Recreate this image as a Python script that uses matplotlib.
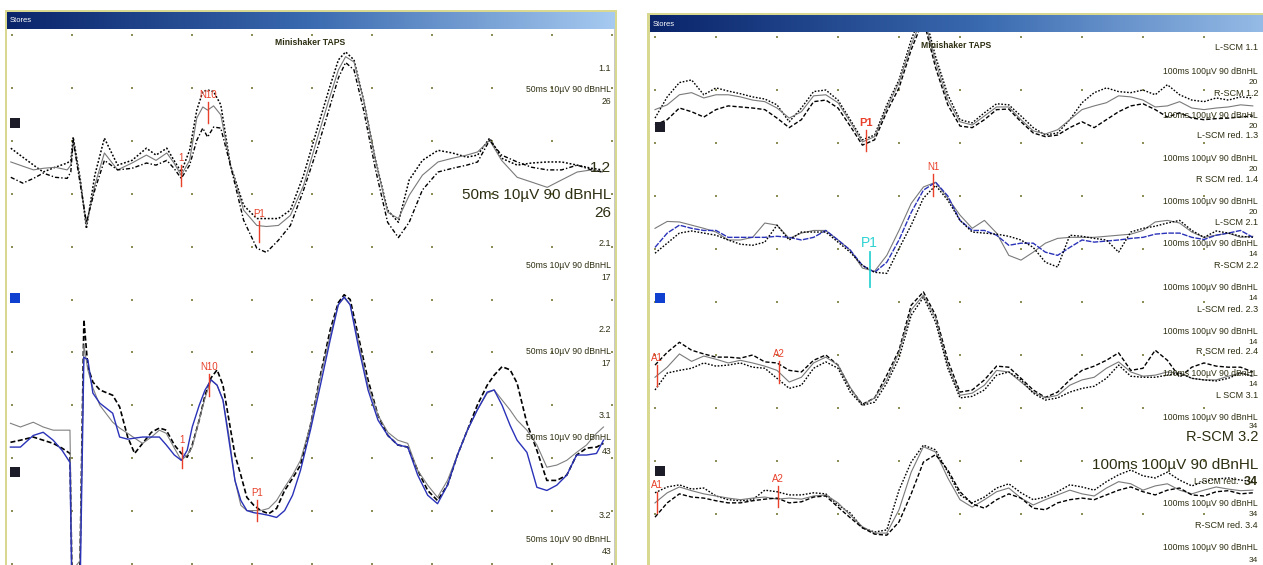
import numpy as np
import matplotlib
matplotlib.use("Agg")
import matplotlib.pyplot as plt
from matplotlib.patches import Rectangle
from matplotlib.colors import LinearSegmentedColormap

plt.rcParams['font.family'] = ['Liberation Sans', 'DejaVu Sans']

# ---------------- data (time in ms, amplitude in µV) ----------------
# Left window: 50 ms sweep, 10 µV / division
LEFT_T_TOP = [-5.1, -4.1, -3.2, -2.4, -1.4, -0.4, -0.1, 0.1, 0.7, 1.2, 1.9, 2.7, 3.8, 5.0, 6.2, 7.0,
              7.9, 8.5, 9.1, 9.8, 10.4, 10.9, 11.3, 11.8, 12.4, 13.2, 14.3, 15.4, 16.2, 17.2, 18.2,
              19.3, 20.4, 21.4, 22.2, 22.8, 23.5, 24.3, 25.3, 26.3, 27.2, 28.1, 29.2, 30.5, 31.7,
              32.9, 33.8, 34.8, 35.8, 37.1, 38.3, 39.6, 40.8, 42.1, 43.3, 44.2]
LEFT_TOP_A = [3.2, 1.5, 0.0, -1.3, -0.4, 0.4, 0.9, 5.3, -2.8, -12.0, -1.9, 5.1, 0.0, 0.9, 3.2, 1.9,
              3.2, 0.9, -1.3, 2.8, 10.4, 13.9, 14.2, 13.9, 11.4, 0.0, -7.6, -10.1, -10.1, -10.1, -8.5,
              -1.9, 6.6, 14.2, 19.9, 21.4, 19.9, 12.3, 0.9, -8.5, -10.8, -2.8, 0.9, 2.8, 2.3, 1.5,
              1.9, 5.1, 1.3, 0.0, 0.4, 0.6, 0.6, 0.0, -0.6, -0.9]
LEFT_TOP_B = [0.6, -0.2, -0.9, -0.6, -0.4, -0.9, 0.0, 4.7, -3.2, -11.4, -3.8, 2.3, -0.9, 0.4, 1.9, 0.9,
              2.3, 0.4, -1.9, 0.9, 8.9, 11.0, 10.4, 11.2, 9.5, 0.0, -8.5, -11.4, -11.6, -11.4, -9.5,
              -3.8, 4.7, 12.3, 18.0, 20.5, 19.5, 12.3, 0.9, -8.9, -10.1, -5.7, -1.9, 0.6, 1.3, 1.9,
              2.5, 4.7, 0.9, -2.3, -3.2, -4.2, -2.8, -1.3, -0.9, -1.3]
LEFT_TOP_C = [-2.3, -3.4, -2.5, -1.5, -2.3, -2.5, -1.3, 4.7, -3.8, -10.8, -4.7, 0.9, -0.9, -0.6, 0.4, 0.0,
              0.9, -0.6, -2.5, 0.0, 4.7, 7.0, 5.3, 7.2, 7.0, 0.0, -10.4, -15.7, -16.5, -14.2, -11.4,
              -4.7, 2.8, 10.4, 16.5, 19.4, 18.0, 10.4, -0.9, -10.8, -13.7, -10.8, -4.7, -1.3, -0.6, 0.0,
              0.6, 4.7, 1.9, 0.6, -0.4, -0.9, -0.9, 0.0, -0.9, -1.3]

LEFT_T_BOT = [-5.13, -4.30, -3.23, -2.40, -1.57, -0.83, -0.17, 0.0, 0.66, 0.99,
              1.32, 1.74, 2.32, 3.39, 3.97, 4.64, 5.22, 5.88, 6.62, 7.28,
              7.86, 8.53, 9.11, 9.60, 10.02, 10.60, 11.09, 11.59, 12.09, 12.58,
              13.08, 13.58, 14.07, 14.57, 15.15, 15.73, 16.39, 17.05, 17.72, 18.38,
              19.04, 19.87, 20.70, 21.52, 22.19, 22.68, 23.18, 23.84, 24.67, 25.50,
              26.32, 27.15, 27.98, 28.81, 29.64, 30.46, 31.29, 32.12, 32.95, 33.77,
              34.60, 35.18, 35.84, 36.51, 37.09, 37.91, 38.74, 39.57, 40.40, 41.23,
              42.05, 42.88, 43.71, 44.29]
LEFT_BOT_A = [-0.4, 0.0, 0.6, 0.0, -0.6, -1.5, -2.5, -26.0, -24.1, 22.8,
              13.9, 11.0, 9.5, 8.5, 6.3, 0.6, -2.5, -0.6, 1.5, 2.3,
              1.9, -0.9, -2.5, -3.2, -0.9, 3.8, 8.5, 11.8, 13.3, 10.4,
              3.8, -2.8, -6.6, -10.8, -12.3, -13.3, -13.9, -12.9, -9.5, -7.2,
              -4.7, 2.8, 12.3, 20.9, 26.0, 27.5, 26.6, 19.9, 11.4, 4.7,
              0.9, -0.9, -1.3, -5.7, -9.5, -11.4, -8.5, -2.8, 1.9, 6.6,
              10.4, 12.3, 13.9, 13.3, 10.8, 3.2, -1.9, -7.6, -7.6, -6.6,
              -2.8, -1.5, -1.3, -0.6]
LEFT_BOT_B = [3.2, 2.5, 3.4, 2.5, 1.9, 1.9, 1.9, -24.7, -22.8, 18.0,
              13.3, 9.9, 6.6, 3.4, 2.3, 1.3, 0.4, -0.6, 0.6, 1.9,
              1.3, -1.5, -3.8, -2.8, -1.3, 3.8, 8.0, 11.4, 10.4, 7.6,
              0.9, -7.6, -12.3, -13.3, -13.3, -13.3, -12.9, -11.4, -8.9, -6.6,
              -3.8, 2.8, 11.8, 19.9, 25.6, 26.9, 25.6, 19.0, 10.4, 4.7,
              1.5, 0.0, -0.6, -5.7, -8.5, -10.8, -7.6, -2.8, 1.9, 5.7,
              8.9, 9.5, 7.6, 5.7, 3.8, 1.9, -0.9, -5.1, -4.7, -3.8,
              -2.3, -0.9, 1.3, 2.5]
LEFT_BOT_C = [-1.3, -1.3, 0.9, 1.5, 0.0, -1.9, -4.2, -30.4, -30.4, 15.7,
              15.2, 8.9, 7.0, 5.1, 0.6, 0.2, 0.4, 0.6, 0.6, 0.6,
              -0.9, -2.8, -3.8, -1.9, 2.5, 6.6, 9.5, 11.4, 10.4, 7.6,
              0.0, -7.6, -11.4, -13.3, -13.7, -13.9, -14.2, -14.6, -13.3, -10.4,
              -5.7, 1.9, 10.4, 19.0, 25.6, 27.1, 25.6, 18.0, 9.5, 3.8,
              0.9, -0.9, -1.3, -6.6, -10.4, -12.0, -8.5, -2.8, 1.9, 5.7,
              9.1, 9.5, 6.6, 2.8, 0.0, -2.3, -8.9, -9.5, -8.5, -6.6,
              -2.8, -2.8, -2.5, 0.0]
LEFT_OFFSETS = [-24.6, -76.6]          # channel baselines (µV on display scale)

# Right window: 100 ms sweep, 100 µV / division
RIGHT_T = [0, 2, 4, 6, 8, 10, 12, 14, 16, 18, 20, 22, 24, 26, 28, 30, 32, 34, 36, 38,
           40, 42, 44, 46, 48, 50, 52, 54, 56, 58, 60, 62, 64, 66, 68, 70, 72, 74, 76, 78,
           80, 82, 84, 86, 88, 90, 92, 94, 96, 98]
R1_A = [-25, 15, 42, 47, 19, 32, 26, 21, 15, 11, 0, -32, -6, 25, 28, 9, -28, -66, -57, 0,
        47, 123, 180, 91, 19, -28, -34, -15, 2, 0, -21, -43, -57, -53, -28, 4, 23, 32, 25, 23,
        28, 19, 38, 19, 9, 6, 13, 9, 15, 13]
R1_B = [-9, 0, 19, 23, 13, 19, 19, 15, 9, 6, -6, -25, -13, 17, 19, 4, -32, -70, -60, -6,
        42, 113, 170, 81, 9, -32, -38, -21, -4, -4, -28, -49, -55, -47, -28, -9, -2, 4, 17, 15,
        9, -4, -2, 6, -6, -9, -6, -4, 0, -2]
R1_C = [-38, -28, -6, -13, -23, -9, -2, -4, -6, -9, -25, -43, -28, 6, 9, -6, -40, -76, -66, -13,
        32, 104, 161, 70, 0, -40, -43, -28, -9, -8, -32, -53, -60, -57, -43, -32, -43, -28, -13, -2,
        2, -9, -23, -15, -25, -28, -26, -25, -23, -21]
R2_GREY = [13, 26, 25, 19, 13, 6, -9, -9, -4, 23, 19, -6, 4, 9, 9, -9, -28, -62, -68, -38,
           9, 60, 91, 100, 70, 38, 13, 28, 4, -38, -47, -32, -15, -6, -4, -4, -4, -2, 0, 2,
           9, 25, 28, 23, 6, -4, 0, 4, -4, -2]
R2_BLUE = [-23, 4, 19, 13, 9, 9, -4, -4, -4, -4, -2, -4, -9, -4, 9, -9, -28, -57, -70, -51,
           -9, 43, 85, 100, 74, 28, 9, 9, 0, -19, -15, -15, -32, -38, -23, -9, -13, -11, -9, -6,
           -4, 2, 4, 4, -4, -8, 0, 4, 9, -4]
R2_DOT = [-34, -15, 4, 8, 4, 0, -9, -17, -19, -13, 19, -9, 6, 6, 6, -13, -32, -57, -70, -72,
          -25, 19, 70, 94, 66, 28, 6, 4, 2, -2, -9, -23, -51, -60, 0, -2, -6, -9, -32, 6,
          13, 17, 23, 28, 9, -4, 8, 4, -2, -4]
R3_A = [19, 43, 62, 47, 40, 34, 34, 32, 38, 25, 23, 9, 6, 28, 38, 19, -25, -55, -43, 0,
        47, 132, 157, 113, 28, -32, -28, -9, 17, 15, -6, -28, -42, -32, -9, 9, 17, 28, 42, 9,
        13, 47, 28, -4, 15, 23, 17, 15, 15, 6]
R3_B = [-4, 15, 40, 26, 36, 30, 23, 28, 23, 17, 9, -13, -4, 23, 34, 19, -23, -57, -43, -9,
        43, 123, 151, 108, 19, -38, -34, -19, 9, 6, -13, -32, -43, -38, -19, -9, -4, 13, 25, 6,
        -2, 0, 6, 4, -6, -9, -9, -2, 4, -2]
R3_C = [-28, 4, 9, 13, 23, 17, 19, 23, 15, 13, -6, -25, -19, 13, 25, 13, -32, -57, -51, -15,
        32, 113, 147, 100, 13, -43, -40, -28, 0, 6, -9, -34, -47, -43, -32, -25, -21, -6, 19, -2,
        -4, -4, 0, 4, -6, -9, -11, -6, 4, -2]
R4_A = [4, 15, 19, 11, 13, -2, -9, -11, -9, 9, 6, 0, 0, 4, 2, -19, -34, -62, -70, -66,
        9, 62, 94, 85, 43, 0, -15, -4, 13, 21, 4, -9, -4, 6, 19, 15, 9, 25, 38, 47,
        36, 32, 43, 28, 17, 25, 30, 32, 28, 25]
R4_B = [-15, 4, 15, 8, 2, -2, -6, -9, -6, -4, -8, -6, -8, -2, 0, -15, -38, -60, -72, -72,
        -28, 43, 91, 81, 32, -9, -23, -9, 6, 13, -6, -19, -9, 0, 9, 2, -2, 13, 25, 21,
        9, 17, 21, 9, 2, 9, 15, 11, 8, 9]
R4_C = [-42, -15, 2, -4, -6, -11, -15, -15, -11, -8, -6, -15, -13, -4, -2, -23, -43, -62, -74, -76,
        -51, 2, 62, 76, 47, 6, -17, -25, -9, 2, -6, -25, -28, -15, -9, -6, -9, 0, 9, 15,
        6, 0, 9, 13, 0, -2, 6, 8, 2, 4]
RIGHT_OFFSETS = [-128, -374, -638, -864]

# peak markers: (group, name, latency ms)
LEFT_MARKS = [(0, "1", 9.1), (0, "N10", 11.3), (0, "P1", 15.6),
              (1, "1", 9.2), (1, "N10", 11.4), (1, "P1", 15.4)]
RIGHT_MARKS = [(0, "P1", 34.6), (1, "P1", 35.2), (1, "N1", 45.6),
               (2, "A1", 0.3), (2, "A2", 20.3), (3, "A1", 0.3), (3, "A2", 20.2)]

LEFT_LABELS = ["1.1", "50ms 10µV 90 dBnHL", "26", "1.2", "50ms 10µV 90 dBnHL", "26",
               "2.1", "50ms 10µV 90 dBnHL", "17", "2.2", "50ms 10µV 90 dBnHL", "17",
               "3.1", "50ms 10µV 90 dBnHL", "43", "3.2", "50ms 10µV 90 dBnHL", "43"]
RIGHT_LABELS = ["L-SCM 1.1", "100ms 100µV 90 dBnHL", "20", "R-SCM 1.2", "100ms 100µV 90 dBnHL",
                "20", "L-SCM red. 1.3", "100ms 100µV 90 dBnHL", "20", "R SCM red. 1.4",
                "100ms 100µV 90 dBnHL", "20", "L-SCM 2.1", "100ms 100µV 90 dBnHL", "14",
                "R-SCM 2.2", "100ms 100µV 90 dBnHL", "14", "L-SCM red. 2.3", "100ms 100µV 90 dBnHL",
                "14", "R SCM red. 2.4", "100ms 100µV 90 dBnHL", "14", "L SCM 3.1",
                "100ms 100µV 90 dBnHL", "34", "R-SCM 3.2", "100ms 100µV 90 dBnHL", "L-SCM red.",
                "34", "100ms 100µV 90 dBnHL", "34", "R-SCM red. 3.4", "100ms 100µV 90 dBnHL", "34"]

# ---------------- layout helpers ----------------
W, H = 1263, 565
fig = plt.figure(figsize=(W / 100, H / 100), dpi=100)
fig.patch.set_facecolor('white')


def rect(x0, y0, x1, y1):
    return [x0 / W, 1 - y1 / H, (x1 - x0) / W, (y1 - y0) / H]


def frect(x0, y0, x1, y1, color, z=-10):
    fig.patches.append(Rectangle((x0 / W, 1 - y1 / H), (x1 - x0) / W, (y1 - y0) / H,
                                 transform=fig.transFigure, facecolor=color,
                                 edgecolor='none', zorder=z))


def ftext(x, y, s, size, color='#2a2a10', ha='right', weight='normal'):
    fig.text(x / W, 1 - y / H, s, fontsize=size, color=color, ha=ha, va='center',
             fontweight=weight, zorder=20)


TXT = '#2e2e12'

# window frames
frect(5, 10, 617, 565, '#d8d890')
frect(7, 12, 615, 565, '#c8c8c8')
frect(647, 13, 1263, 565, '#d8d890')
frect(650, 15, 1263, 565, '#c8c8c8')

grad = np.linspace(0, 1, 256)[None, :]
cm_bar = LinearSegmentedColormap.from_list('bar', ['#0a246a', '#3a6ab0', '#a6caf0'])
for (x0, y0, x1, y1, end) in [(7, 12, 615, 29, 1.0), (650, 15, 1263, 32, 0.92)]:
    bax = fig.add_axes(rect(x0, y0, x1, y1))
    bax.set_zorder(2)
    bax.imshow(grad * end, aspect='auto', cmap=cm_bar, vmin=0, vmax=1)
    bax.set_axis_off()
ftext(10, 20.5, "Stores", 5.5, color='white', ha='left')
ftext(653, 24, "Stores", 5.5, color='white', ha='left')

# ---------------- left window ----------------
axL = fig.add_axes(rect(7, 29, 614, 565))
axL.set_zorder(2)
axL.set_xlim((7 - 72) / 12.0, (614 - 72) / 12.0)
axL.set_ylim(-(565 - 35) / 5.29, -(29 - 35) / 5.29)
axL.set_axis_off()
axL.add_patch(Rectangle((0, 0), 1, 1, transform=axL.transAxes, facecolor='white',
                        edgecolor='none', zorder=0))
gx, gy = np.meshgrid(np.arange(-5, 46, 5), np.arange(0, -101, -10))
axL.scatter(gx.ravel(), gy.ravel(), s=2.2, marker='s', color='#8e8e58', lw=0, zorder=1)

left_styles = [
    [dict(color='black', lw=1.1, ls=(0, (1.2, 1.2))),
     dict(color='#7a7a7a', lw=0.8, ls='-'),
     dict(color='black', lw=1.0, ls=(0, (3, 1.5, 1, 1.5)))],
    [dict(color='black', lw=1.2, ls=(0, (3, 1.5))),
     dict(color='#808080', lw=0.8, ls='-'),
     dict(color='#2a32b8', lw=1.0, ls='-')],
]
left_groups = [(LEFT_T_TOP, [LEFT_TOP_A, LEFT_TOP_B, LEFT_TOP_C]),
               (LEFT_T_BOT, [LEFT_BOT_A, LEFT_BOT_B, LEFT_BOT_C])]
for gi, (t, series) in enumerate(left_groups):
    for vals, st in zip(series, left_styles[gi]):
        axL.plot(t, np.asarray(vals) + LEFT_OFFSETS[gi], zorder=3, **st)

RED = '#e8402a'
for gi, name, tm in LEFT_MARKS:
    t, series = left_groups[gi]
    y0 = np.mean([np.interp(tm, t, s) for s in series]) + LEFT_OFFSETS[gi]
    axL.plot([tm, tm], [y0 - 2.0, y0 + 2.0], color=RED, lw=1.0, zorder=4)
    axL.annotate(name, (tm, y0 + 2.0), xytext=(0, 1.5), textcoords='offset points',
                 ha='center', va='bottom', color=RED, fontsize=7, zorder=5)

axL.text(0.50, 0.975, "Minishaker TAPS", transform=axL.transAxes, ha='center', va='center',
         fontsize=6.2, color=TXT, fontweight='bold', zorder=6)

left_y = [68, 90, 102, 168, 195, 213, 243, 266, 277, 329, 352, 364, 416, 438, 452, 516, 540, 552]
left_sz = [6.5, 6.2, 6.2, 11, 11, 11, 6.5, 6.2, 6.2, 6.5, 6.2, 6.2, 6.5, 6.2, 6.2, 6.5, 6.2, 6.2]
for s, y, sz in zip(LEFT_LABELS, left_y, left_sz):
    ftext(611, y, s, sz, color=TXT)

# ---------------- right window ----------------
axR = fig.add_axes(rect(650, 32, 1263, 565))
axR.set_zorder(2)
axR.set_xlim((650 - 655) / 6.1, (1263 - 655) / 6.1)
axR.set_ylim(-(565 - 37) / 0.53, -(32 - 37) / 0.53)
axR.set_axis_off()
axR.add_patch(Rectangle((0, 0), 1, 1, transform=axR.transAxes, facecolor='white',
                        edgecolor='none', zorder=0))
gx, gy = np.meshgrid(np.arange(0, 101, 10), np.arange(0, -1001, -100))
axR.scatter(gx.ravel(), gy.ravel(), s=2.2, marker='s', color='#8e8e58', lw=0, zorder=1)

right_groups = [[R1_A, R1_B, R1_C], [R2_GREY, R2_BLUE, R2_DOT],
                [R3_A, R3_B, R3_C], [R4_A, R4_B, R4_C]]
sty_dot = dict(color='black', lw=1.0, ls=(0, (1.2, 1.2)))
sty_grey = dict(color='#7a7a7a', lw=0.8, ls='-')
sty_dash = dict(color='black', lw=1.0, ls=(0, (3, 1.5)))
sty_blue = dict(color='#2a32b8', lw=1.0, ls=(0, (4, 1)))
right_styles = [[sty_dot, sty_grey, sty_dash], [sty_grey, sty_blue, sty_dot],
                [sty_dash, sty_grey, sty_dot], [sty_dot, sty_grey, sty_dash]]
for gi, series in enumerate(right_groups):
    for vals, st in zip(series, right_styles[gi]):
        axR.plot(RIGHT_T, np.asarray(vals) + RIGHT_OFFSETS[gi], zorder=3, **st)

CYAN = '#2ed2d2'
for gi, name, tm in RIGHT_MARKS:
    series = right_groups[gi]
    y0 = np.mean([np.interp(tm, RIGHT_T, s) for s in series]) + RIGHT_OFFSETS[gi]
    if gi == 1 and name == "P1":
        col, half, fs, lw = CYAN, 33, 10, 1.3
    else:
        col, half, fs, lw = RED, 20, 7 if name != "P1" else 8, 1.0
    axR.plot([tm, tm], [y0 - half, y0 + half], color=col, lw=lw, zorder=4)
    axR.annotate(name, (tm, y0 + half), xytext=(0, 1.5), textcoords='offset points',
                 ha='center', va='bottom', color=col, fontsize=fs, zorder=5,
                 fontweight='bold' if name == "P1" and gi == 0 else 'normal')

axR.text(0.50, 0.975, "Minishaker TAPS", transform=axR.transAxes, ha='center', va='center',
         fontsize=6.2, color=TXT, fontweight='bold', zorder=6)

right_y = [48, 72, 83, 93, 115, 126, 136, 158, 169, 179, 201, 212, 222, 244, 255, 265, 288, 298,
           309, 331, 342, 352, 374, 385, 395, 417, 427, 437, 465, 482, 482, 504, 515, 525, 547, 560]
right_sz = [6.5, 6.2, 6, 6.5, 6.2, 6, 6.5, 6.2, 6, 6.5, 6.2, 6, 6.5, 6.2, 6, 6.5, 6.2, 6,
            6.5, 6.2, 6, 6.5, 6.2, 6, 6.5, 6.2, 6, 10.5, 11, 6.2, 9, 6.2, 6, 6.5, 6.2, 6]
right_x = [1258] * len(RIGHT_LABELS)
right_x[29] = 1238
for s, x, y, sz in zip(RIGHT_LABELS, right_x, right_y, right_sz):
    ftext(x, y, s, sz, color=TXT, weight='bold' if (sz == 9) else 'normal')

# channel indicator squares
for (x0, y0, c) in [(10, 118, '#1c1c28'), (10, 293, '#1040d0'), (10, 467, '#1c1c28'),
                    (655, 122, '#1c1c28'), (655, 293, '#1040d0'), (655, 466, '#1c1c28')]:
    frect(x0, y0, x0 + 10, y0 + 10, c, 30)

fig.savefig('out.png', dpi=100, facecolor='white')
